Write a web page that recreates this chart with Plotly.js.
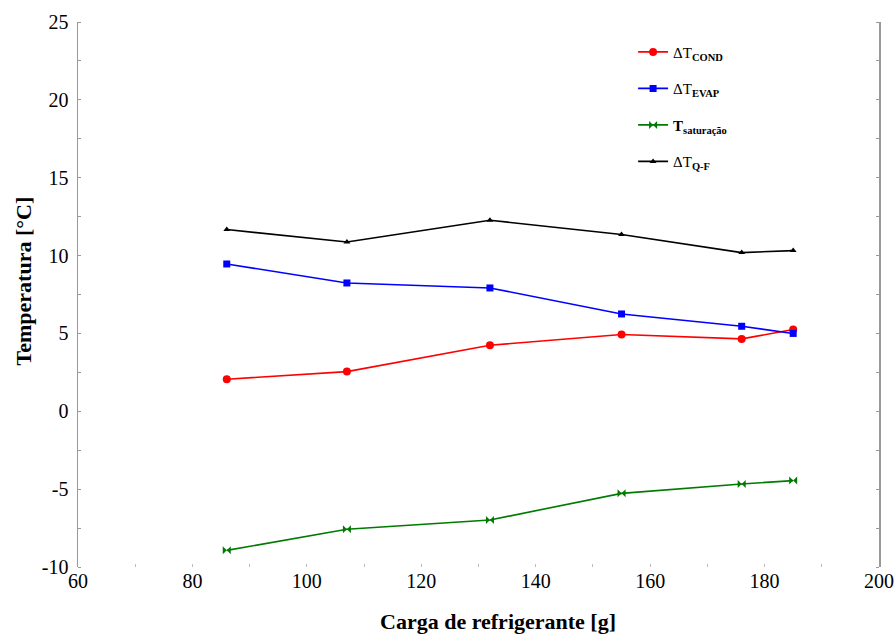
<!DOCTYPE html>
<html>
<head>
<meta charset="utf-8">
<script src="https://cdn.plot.ly/plotly-3.0.1.min.js"></script>
<style>html,body{margin:0;padding:0;background:#fff;}#chart{width:896px;height:637px;}</style>
</head>
<body>
<div id="chart"></div>
<script>
const carga = [86, 107, 132, 155, 176, 185];
const dTcond = [2.06, 2.55, 4.24, 4.93, 4.65, 5.25];
const dTevap = [9.46, 8.24, 7.92, 6.25, 5.46, 5.0];
const tSat = [-8.93, -7.58, -6.98, -5.27, -4.67, -4.45];
const dTqf = [11.67, 10.87, 12.27, 11.35, 10.19, 10.32];
const seriesNames = ['ΔT<sub><b>COND</b></sub>', 'ΔT<sub><b>EVAP</b></sub>', '<b>T</b><sub><b>saturação</b></sub>', 'ΔT<sub><b>Q-F</b></sub>'];
const yTickVals = [-10, -5, 0, 5, 10, 15, 20, 25];
const yTickText = ['-10', '-5', '0', '5', '10', '15', '20', '25'];
const xTitle = 'Carga de refrigerante [g]';
const yTitle = 'Temperatura [°C]';

const serif = 'Liberation Serif, Times New Roman, serif';
function tr(y, name, color, symbol, size, g) {
  return {
    x: carga, y: y, name: name, type: 'scatter', mode: 'lines+markers',
    legendgroup: g,
    line: {color: color, width: 1.6},
    marker: {color: color, symbol: symbol, size: size}
  };
}
const data = [
  tr(dTcond, seriesNames[0], '#ff0000', 'circle', 8, 'a'),
  tr(dTevap, seriesNames[1], '#0000ff', 'square', 7, 'b'),
  tr(tSat, seriesNames[2], '#007a00', 'bowtie', 8, 'c'),
  tr(dTqf, seriesNames[3], '#000000', 'triangle-up', 6, 'd')
];
const layout = {
  width: 896, height: 637,
  margin: {l: 78, r: 17, t: 22, b: 70},
  paper_bgcolor: '#ffffff', plot_bgcolor: '#ffffff',
  font: {family: serif, color: '#000'},
  showlegend: true,
  legend: {x: 0.693, y: 0.975, xanchor: 'left', yanchor: 'top',
    bgcolor: 'rgba(0,0,0,0)', font: {family: serif, size: 15, color: '#000'},
    tracegroupgap: 14, itemwidth: 30, traceorder: 'grouped'},
  xaxis: {range: [60, 200], dtick: 20, tick0: 60, showgrid: false, zeroline: false,
    showline: false, ticks: 'inside', ticklen: 3, tickcolor: '#bbb',
    minor: {dtick: 10, ticks: 'inside', ticklen: 3, tickcolor: '#bbb'},
    tickfont: {family: serif, size: 20, color: '#000'}},
  yaxis: {range: [-10, 25], tickmode: 'array', tickvals: yTickVals, ticktext: yTickText,
    showgrid: false, zeroline: false,
    showline: true, linecolor: '#999', linewidth: 1.5, mirror: 'ticks',
    ticks: '', minor: {dtick: 2.5, ticks: 'inside', ticklen: 3, tickcolor: '#999'},
    ticklabelstandoff: 4,
    tickfont: {family: serif, size: 20, color: '#000'}},
  annotations: [
    {text: '<b>' + xTitle + '</b>', xref: 'paper', yref: 'paper', x: 0.524, y: -0.1,
     yanchor: 'middle', showarrow: false, font: {family: serif, size: 22, color: '#000'}},
    {text: '<b>' + yTitle + '</b>', xref: 'paper', yref: 'paper', x: -0.068, y: 0.525,
     xanchor: 'center', textangle: -90, showarrow: false, font: {family: serif, size: 22, color: '#000'}}
  ]
};
Plotly.newPlot('chart', data, layout, {displayModeBar: false, staticPlot: true});
</script>
</body>
</html>
